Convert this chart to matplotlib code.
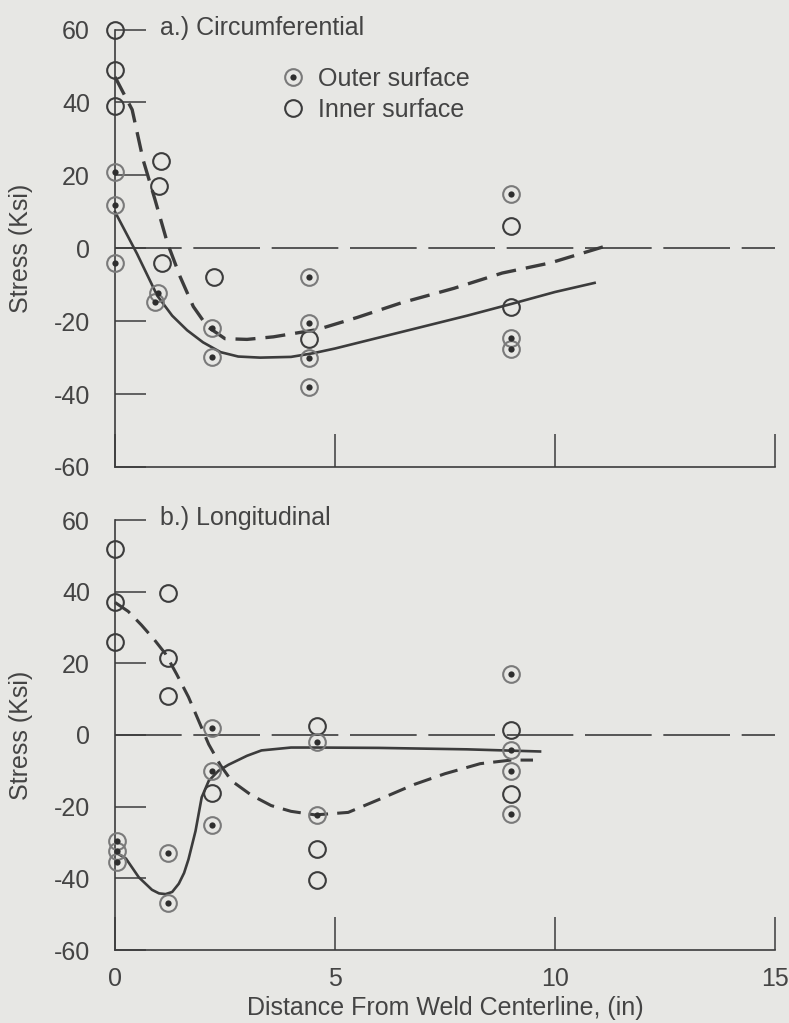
import matplotlib
matplotlib.use("Agg")
import matplotlib.pyplot as plt
from matplotlib.lines import Line2D

plt.rcParams['font.family'] = ['Liberation Sans', 'DejaVu Sans']

# --- a.) circumferential
circ_outer_x = [0, 0, 0, 0.98, 0.92, 2.2, 2.2, 4.4, 4.4, 4.4, 4.4, 9.0, 9.0, 9.0]
circ_outer_y = [21, 12, -4, -12.3, -14.7, -22, -29.7, -7.8, -20.4, -30, -38, 15, -24.5, -27.5]
circ_inner_x = [0, 0, 0, 1.05, 1.0, 1.07, 2.25, 4.4, 9.0, 9.0]
circ_inner_y = [60, 49, 39, 24, 17, -4, -8, -25, 6, -16]

circ_fit_outer_x = [0, 0.5, 0.96, 1.3, 1.64, 2.0, 2.4, 2.8, 3.3, 4.0, 4.5, 5.0, 6.0, 7.0, 8.0, 9.0, 10.0, 10.9]
circ_fit_outer_y = [10, -1.5, -13, -18.5, -22.5, -25.8, -28.5, -29.7, -30.0, -29.8, -28.8, -27.5, -24.5, -21.5, -18.5, -15.3, -12, -9.5]
circ_fit_inner_x = [0, 0.39, 0.64, 0.91, 1.19, 1.48, 1.78, 2.1, 2.5, 3.0, 3.6, 4.6, 5.5, 6.5, 7.7, 8.8, 9.9, 11.1]
circ_fit_inner_y = [47, 38, 24.2, 13.3, 1.5, -7.8, -16, -21.5, -24.8, -25, -24.3, -22.3, -19, -15, -11, -6.8, -4, 0.4]

# --- b.) longitudinal
long_outer_x = [0.05, 0.05, 0.05, 1.2, 1.2, 2.2, 2.2, 2.2, 4.6, 4.6, 9.0, 9.0, 9.0, 9.0]
long_outer_y = [-29.5, -32.5, -35.5, -33, -47, 2, -10, -25, -2, -22.4, 17, -4.3, -10, -22]
long_inner_x = [0, 1.2, 0, 0, 1.2, 1.2, 2.2, 4.6, 4.6, 4.6, 9.0, 9.0]
long_inner_y = [52, 39.5, 37, 26, 21.6, 11, -16.3, 2.6, -31.8, -40.6, 1.3, -16.6]

long_fit_outer_x = [0.05, 0.25, 0.54, 0.84, 1.0, 1.15, 1.3, 1.45, 1.57, 1.67, 1.83, 1.97, 2.13, 2.35, 2.58, 3.0, 3.33, 4.0, 4.57, 6.0, 8.0, 9.66]
long_fit_outer_y = [-33, -34.5, -39.7, -43.2, -44.2, -44.4, -43.8, -41.5, -38.5, -34.7, -26.8, -17.4, -12.8, -10, -8.3, -5.8, -4.3, -3.5, -3.5, -3.6, -4, -4.6]
long_fit_inner_x = [0, 0.3, 0.6, 0.9, 1.15, 1.4, 1.67, 1.9, 2.13, 2.4, 2.65, 3.1, 3.55, 4.0, 4.55, 5.3, 6.0, 6.8, 7.5, 8.3, 9.0, 9.5]
long_fit_inner_y = [37, 34.5, 30.7, 26.5, 22.6, 17, 10.6, 4, -2.6, -8.5, -12.8, -16.8, -19.7, -21.3, -22.3, -21.6, -18, -13.8, -10.8, -8, -7, -7]

yticks = [60, 40, 20, 0, -20, -40, -60]
xticks = [0, 5, 10, 15]

bg = '#e7e7e4'
ink = '#3c3c3c'
fs = 18

fig = plt.figure(figsize=(7.89, 10.23), dpi=100, facecolor=bg)
ax1 = fig.add_axes([115/789, 1 - 467/1023, 660/789, (467 - 29.5)/1023])
ax2 = fig.add_axes([115/789, 1 - 950/1023, 660/789, (950 - 520)/1023])


def draw_points(ax, ox, oy, ix, iy):
    ax.plot(ix, iy, 'o', ms=12, mfc='none', mec=ink, mew=1.5, zorder=5)
    ax.plot(ox, oy, 'o', ms=12, mfc='none', mec='#7a7a7a', mew=1.5, zorder=5)
    ax.plot(ox, oy, 'o', ms=4.5, mfc='#2e2e2e', mec='none', zorder=6)


for ax, title in [(ax1, 'a.) Circumferential'), (ax2, 'b.) Longitudinal')]:
    ax.set_facecolor('none')
    ax.set_xlim(0, 15)
    ax.set_ylim(-60, 60)
    for s in ['top', 'right']:
        ax.spines[s].set_visible(False)
    for s in ['left', 'bottom']:
        ax.spines[s].set_color(ink)
        ax.spines[s].set_linewidth(1.2)
    ax.set_yticks(yticks)
    ax.set_yticklabels([str(v) for v in yticks])
    ax.set_xticks(xticks)
    ax.tick_params(axis='y', direction='in', length=22, width=1.1, color=ink,
                   labelsize=fs, labelcolor='#444444', pad=18)
    ax.tick_params(axis='x', direction='in', length=24, width=1.1, color=ink,
                   labelsize=fs, labelcolor='#444444', pad=12)
    ax.set_ylabel('Stress (Ksi)', fontsize=fs, color='#444444')
    ax.yaxis.set_label_coords(-0.124, 0.5)
    ax.axhline(0, color=ink, lw=1.2, dashes=(40, 7), zorder=2)
    ax.text(1.03, 60.5, title, fontsize=fs, color='#444444', va='center', ha='left')

ax1.tick_params(axis='x', labelbottom=False)
ax2.set_xticklabels([str(v) for v in xticks])
ax2.set_xlabel('Distance From Weld Centerline, (in)', fontsize=fs, color='#444444', labelpad=4)

ax1.plot(circ_fit_outer_x, circ_fit_outer_y, color=ink, lw=1.9, zorder=3)
ax1.plot(circ_fit_inner_x, circ_fit_inner_y, color=ink, lw=2.4, dashes=(6, 3), zorder=3)
draw_points(ax1, circ_outer_x, circ_outer_y, circ_inner_x, circ_inner_y)

ax2.plot(long_fit_outer_x, long_fit_outer_y, color=ink, lw=1.9, zorder=3)
ax2.plot(long_fit_inner_x, long_fit_inner_y, color=ink, lw=2.2, dashes=(6, 3), zorder=3)
draw_points(ax2, long_outer_x, long_outer_y, long_inner_x, long_inner_y)

for ax in (ax1, ax2):
    for ln in ax.lines:
        ln.set_clip_on(False)

outer_h = (Line2D([], [], ls='none', marker='o', ms=12, mfc='none', mec='#7a7a7a', mew=1.5),
           Line2D([], [], ls='none', marker='o', ms=4.5, mfc='#2e2e2e', mec='none'))
inner_h = Line2D([], [], ls='none', marker='o', ms=12, mfc='none', mec=ink, mew=1.5)
leg = ax1.legend([outer_h, inner_h], ['Outer surface', 'Inner surface'],
                 loc='upper left', bbox_to_anchor=(0.25, 0.915), frameon=False,
                 fontsize=fs, handlelength=1.0, handletextpad=0.5, labelspacing=0.3,
                 borderpad=0, borderaxespad=0)
for t in leg.get_texts():
    t.set_color('#444444')

fig.savefig('out.png', dpi=100, facecolor=bg)
